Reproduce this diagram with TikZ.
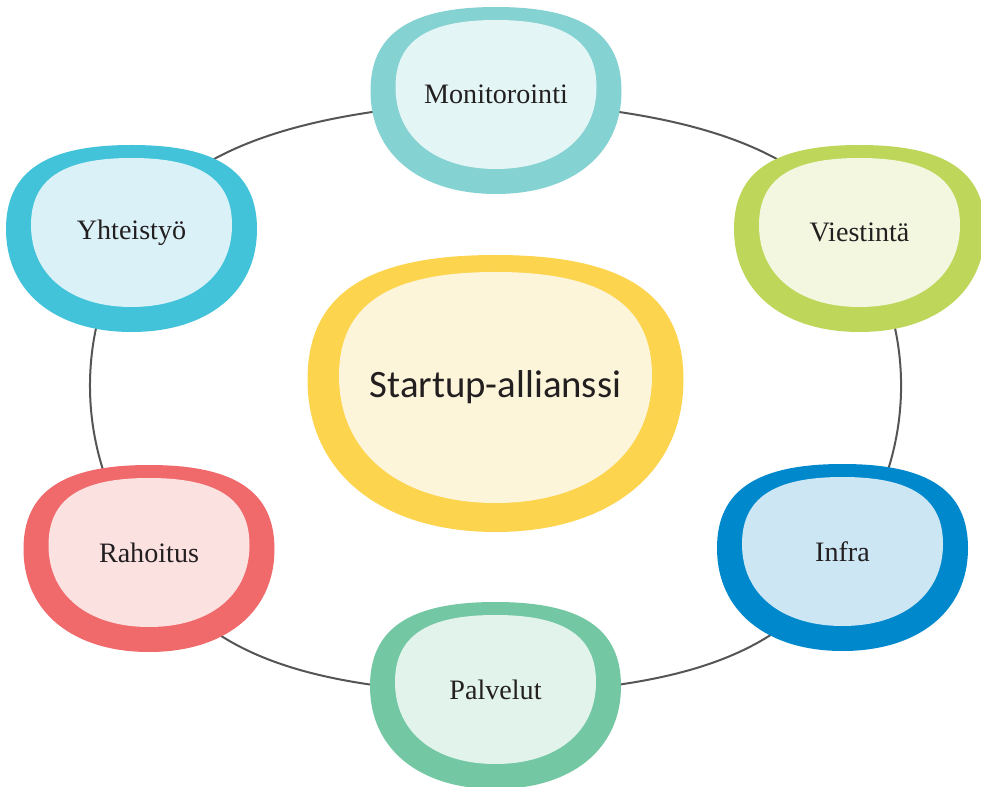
\documentclass[tikz,border=0pt]{standalone}
\usepackage{fontspec}
\setmainfont{Liberation Serif}
\newfontfamily\hubfont{Carlito}
\usetikzlibrary{backgrounds}

\definecolor{txt}{RGB}{35,31,32}
\definecolor{ringline}{RGB}{85,85,85}
\definecolor{yelring}{RGB}{253,212,78}
\definecolor{yelfill}{RGB}{253,245,218}
\definecolor{monring}{RGB}{133,210,210}
\definecolor{monfill}{RGB}{228,245,245}
\definecolor{yhtring}{RGB}{66,195,218}
\definecolor{yhtfill}{RGB}{218,242,247}
\definecolor{viering}{RGB}{190,215,90}
\definecolor{viefill}{RGB}{243,247,224}
\definecolor{infring}{RGB}{0,136,204}
\definecolor{inffill}{RGB}{204,230,244}
\definecolor{palring}{RGB}{115,200,163}
\definecolor{palfill}{RGB}{226,243,236}
\definecolor{rahring}{RGB}{240,106,108}
\definecolor{rahfill}{RGB}{252,225,225}

% #1 dy, #2 half width, #3 half height, #4 colour
\newcommand{\blob}[4]{%
  \fill[#4] ({-(#2)},{#1+0.1*(#3)})
    .. controls ({-(#2)},{#1+0.72*(#3)}) and ({-0.68*(#2)},{#1+(#3)}) .. (0,{#1+(#3)})
    .. controls ({0.68*(#2)},{#1+(#3)}) and ({#2},{#1+0.72*(#3)}) .. ({#2},{#1+0.1*(#3)})
    .. controls ({#2},{#1-0.58*(#3)}) and ({0.6*(#2)},{#1-(#3)}) .. (0,{#1-(#3)})
    .. controls ({-0.6*(#2)},{#1-(#3)}) and ({-(#2)},{#1-0.58*(#3)}) .. cycle;}

% #1 node, #2 #3 outer size, #4 #5 inner size, #6 ring, #7 fill
\newcommand{\bubble}[7]{%
  \begin{scope}[shift={(#1.center)}]
    \blob{-6}{#2}{#3}{#6}
    \blob{0}{#4}{#5}{#7}
  \end{scope}}

\tikzset{
  sat/.style={text=txt, font=\fontsize{20}{24}\selectfont},
  hub/.style={text=txt, font=\hubfont\fontsize{27.6}{33}\selectfont},
  ring/.style={draw=ringline, line width=0.05cm}
}

\begin{document}
\begin{tikzpicture}[x=0.025cm, y=0.025cm]
	\useasboundingbox (0,0) rectangle (981,-787);
	\node[hub] (hub) at (495.5,-387.5) {Startup-allianssi};
	\node[sat] (mon) at (496,-94.5) {Monitorointi};
	\node[sat] (vie) at (859.5,-232.5) {Viestintä};
	\node[sat] (inf) at (842.5,-551.5) {Infra};
	\node[sat] (pal) at (495.5,-689.5) {Palvelut};
	\node[sat] (rah) at (149,-552.5) {Rahoitus};
	\node[sat] (yht) at (131.5,-232.5) {Yhteistyö};
	\begin{scope}[on background layer]
	\draw[ring]
	([yshift=-0.15cm]yht.center) to [out=62, in=183, out looseness=0.79] ([yshift=-0.15cm]mon.center)
	to [out=-3, in=118, in looseness=0.79] ([yshift=-0.15cm]vie.center)
	to [out=-59, in=53, looseness=0.95] ([yshift=-0.15cm]inf.center)
	to [out=-118, in=3, out looseness=0.89] ([yshift=-0.15cm]pal.center)
	to [out=177, in=-62, in looseness=0.89] ([yshift=-0.15cm]rah.center)
	to [out=127, in=-121, looseness=0.95] ([yshift=-0.15cm]yht.center);
	\bubble{hub}{188}{138.5}{156.5}{115.5}{yelring}{yelfill}
	\bubble{mon}{125.5}{93.5}{100.5}{74.5}{monring}{monfill}
	\bubble{vie}{125.5}{93.5}{100.5}{74.5}{viering}{viefill}
	\bubble{inf}{125.5}{93.5}{100.5}{74.5}{infring}{inffill}
	\bubble{pal}{125.5}{93.5}{100.5}{74.5}{palring}{palfill}
	\bubble{rah}{125.5}{93.5}{100.5}{74.5}{rahring}{rahfill}
	\bubble{yht}{125.5}{93.5}{100.5}{74.5}{yhtring}{yhtfill}
	\end{scope}
\end{tikzpicture}
\end{document}
